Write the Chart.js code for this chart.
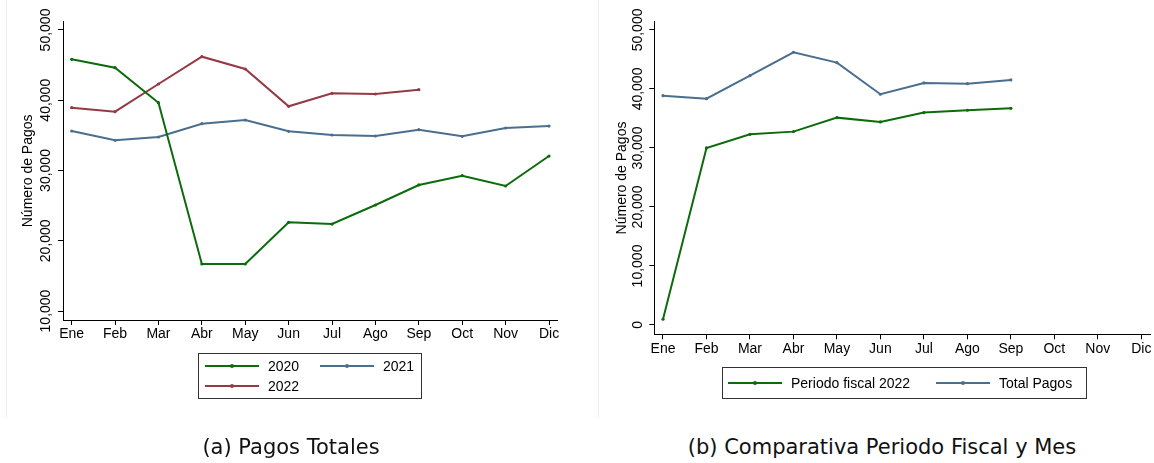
<!DOCTYPE html>
<html>
<head>
<meta charset="utf-8">
<script src="https://cdn.jsdelivr.net/npm/chart.js@4.4.0/dist/chart.umd.min.js"></script>
<style>
    body { margin: 0; background: #fff; width: 1154px; height: 463px; position: relative; overflow: hidden; font-family: "Liberation Sans", Arial, sans-serif; }
    .panel { position: absolute; top: 0; height: 418px; border-left: 1px solid #e8eef1; }
    canvas { position: absolute; top: 0; }
    .leyenda { position: absolute; border: 1px solid #333; box-sizing: border-box; font-size: 14px; color: #000; }
    .item { position: absolute; height: 20px; display: flex; align-items: center; white-space: nowrap; }
    .linea { position: relative; width: 54px; height: 2px; margin-right: 9px; flex: none; }
    .linea span { position: absolute; left: 25px; top: -1px; width: 4px; height: 4px; border-radius: 2px; }
    .caption { position: absolute; top: 435px; font-family: "DejaVu Sans", sans-serif; font-size: 21px; color: #111; transform: translateX(-50%); white-space: nowrap; }
</style>
</head>
<body>
<div class="panel" style="left:6px; width:585px;"></div>
<div class="panel" style="left:598px; width:556px;"></div>
<canvas id="chartTotales" width="592" height="420" style="left:0"></canvas>
<canvas id="chartFiscal" width="556" height="420" style="left:598px"></canvas>
<div id="leyendaTotales" class="leyenda" style="left:198px; top:353px; width:224px; height:46px;"></div>
<div id="leyendaFiscal" class="leyenda" style="left:722px; top:367px; width:365px; height:32px;"></div>
<div class="caption" style="left:291px;">(a) Pagos Totales</div>
<div class="caption" style="left:882px;">(b) Comparativa Periodo Fiscal y Mes</div>
<script>
var meses = ['Ene', 'Feb', 'Mar', 'Abr', 'May', 'Jun', 'Jul', 'Ago', 'Sep', 'Oct', 'Nov', 'Dic'];

var pagos2020 = [45830, 44630, 39650, 16690, 16690, 22620, 22380, 25090, 27940, 29260, 27790, 32060];
var pagos2021 = [35620, 34300, 34770, 36660, 37190, 35580, 35050, 34910, 35810, 34860, 36050, 36330];
var pagos2022 = [38940, 38370, 42310, 46200, 44450, 39140, 40990, 40890, 41500];

var fiscal2022 = [970, 30000, 32320, 32770, 35140, 34410, 36000, 36390, 36720];
var totalPagos = [38870, 38360, 42260, 46220, 44460, 39100, 41020, 40900, 41530];

var ticksTotales = [10000, 20000, 30000, 40000, 50000];
var ticksFiscal = [0, 10000, 20000, 30000, 40000, 50000];

var VERDE = '#0c6b0c';
var AZUL = '#4a6f8e';
var ROJO = '#933a45';

function puntos(arrValues) {
    return arrValues.map(function (v, i) { return {x: i, y: v}; });
}

function serie(label, arrValues, color) {
    return {
        label: label,
        data: puntos(arrValues),
        borderColor: color,
        backgroundColor: color,
        borderWidth: 2,
        pointRadius: 1.6,
        pointBorderWidth: 0,
        pointBackgroundColor: color,
        tension: 0
    };
}

function crearChart(id, datasets, opts) {
    var ctx = document.getElementById(id);
    return new Chart(ctx, {
        type: 'line',
        data: {datasets: datasets},
        options: {
            responsive: false,
            animation: false,
            layout: {padding: {left: 0, right: opts.padRight, top: 21.7, bottom: 0}},
            plugins: {legend: {display: false}, tooltip: {enabled: false}},
            scales: {
                x: {
                    type: 'linear',
                    min: -0.2,
                    max: 11.2,
                    afterBuildTicks: function (scale) {
                        scale.ticks = meses.map(function (m, i) { return {value: i}; });
                    },
                    afterFit: function (scale) { scale.height = opts.xHeight; },
                    ticks: {
                        color: '#000',
                        font: {family: 'Liberation Sans', size: 14},
                        padding: 1,
                        maxRotation: 0,
                        autoSkip: false,
                        callback: function (v) { return meses[v]; }
                    },
                    grid: {display: true, drawOnChartArea: false, drawTicks: true, tickLength: 5, color: '#000'},
                    border: {display: true, color: '#000', width: 1}
                },
                y: {
                    min: opts.yMin,
                    max: opts.yMax,
                    afterBuildTicks: function (scale) {
                        scale.ticks = opts.yTicks.map(function (v) { return {value: v}; });
                    },
                    afterFit: function (scale) { scale.width = opts.yWidth; },
                    ticks: {
                        color: '#000',
                        font: {family: 'Liberation Sans', size: 14},
                        minRotation: 90,
                        maxRotation: 90,
                        crossAlign: 'center',
                        padding: opts.tickPad,
                        callback: function (v) { return v.toLocaleString('en-US'); }
                    },
                    grid: {display: true, drawOnChartArea: false, drawTicks: true, tickLength: 5, color: '#000'},
                    border: {display: true, color: '#000', width: 1},
                    title: {
                        display: true,
                        text: 'Número de Pagos',
                        color: '#000',
                        font: {family: 'Liberation Sans', size: 14},
                        padding: {top: opts.titlePad, bottom: 0}
                    }
                }
            }
        }
    });
}

function crearLeyenda(chart, id, posiciones) {
    var caja = document.getElementById(id);
    chart.data.datasets.forEach(function (ds, i) {
        var item = document.createElement('div');
        item.className = 'item';
        item.style.left = posiciones[i][0] + 'px';
        item.style.top = posiciones[i][1] + 'px';
        var linea = document.createElement('div');
        linea.className = 'linea';
        linea.style.background = ds.borderColor;
        var punto = document.createElement('span');
        punto.style.background = ds.borderColor;
        linea.appendChild(punto);
        var texto = document.createElement('span');
        texto.textContent = ds.label;
        item.appendChild(linea);
        item.appendChild(texto);
        caja.appendChild(item);
    });
}

var chartTotales = crearChart('chartTotales', [
    serie('2020', pagos2020, VERDE),
    serie('2021', pagos2021, AZUL),
    serie('2022', pagos2022, ROJO)
], {padRight: 34.3, xHeight: 100, yWidth: 63, yMin: 8720, yMax: 51180, yTicks: ticksTotales, tickPad: -10, titlePad: 19.6});

var chartFiscal = crearChart('chartFiscal', [
    serie('Periodo fiscal 2022', fiscal2022, VERDE),
    serie('Total Pagos', totalPagos, AZUL)
], {padRight: 3.5, xHeight: 85.7, yWidth: 56.3, yMin: -1580, yMax: 51400, yTicks: ticksFiscal, tickPad: -10.4, titlePad: 15.3});

crearLeyenda(chartTotales, 'leyendaTotales', [[6, 2], [121, 2], [6, 22]]);
crearLeyenda(chartFiscal, 'leyendaFiscal', [[5, 5], [213, 5]]);
</script>
</body>
</html>
